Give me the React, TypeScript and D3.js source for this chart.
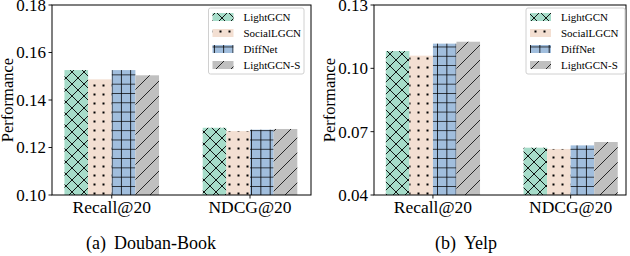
import React from "react";
import * as d3 from "d3";

const categories = ["Recall@20", "NDCG@20"];
const methods = ["LightGCN", "SocialLGCN", "DiffNet", "LightGCN-S"];

// values per method, [Recall@20, NDCG@20]
const doubanLightGCN = [0.1526, 0.1283];
const doubanSocialLGCN = [0.1487, 0.1269];
const doubanDiffNet = [0.1526, 0.1275];
const doubanLightGCNS = [0.1504, 0.1278];

const yelpLightGCN = [0.1082, 0.0624];
const yelpSocialLGCN = [0.106, 0.0618];
const yelpDiffNet = [0.1117, 0.0635];
const yelpLightGCNS = [0.1126, 0.0651];

const doubanTicks = [0.1, 0.12, 0.14, 0.16, 0.18];
const yelpTicks = [0.04, 0.07, 0.1, 0.13];

const colors = ["#a6dcc9", "#f3dfd2", "#a1bedd", "#c0c0c0"];
const patternIds = ["pCross", "pDots", "pPlus", "pSlash"];

const FONT = "Liberation Serif, Times New Roman, Times, serif";
const tStyle = (size: number) => ({ fontFamily: FONT, fontSize: `${size}px` });

type PanelProps = {
  left: number;
  right: number;
  top: number;
  bottom: number;
  xDomain: [number, number];
  yDomain: [number, number];
  ticks: number[];
  series: number[][];
  caption: [string, string];
  captionX: number;
  ylabelX: number;
  legendX: number;
  legendW: number;
};

function Panel(p: PanelProps) {
  const x = d3.scaleLinear().domain(p.xDomain).range([p.left, p.right]);
  const y = d3.scaleLinear().domain(p.yDomain).range([p.bottom, p.top]);
  const bw = 0.171;
  const fmt = d3.format(".2f");
  const bars: JSX.Element[] = [];
  p.series.forEach((vals, si) => {
    vals.forEach((v, ci) => {
      const c = ci + (si - 1.5) * bw;
      const x0 = x(c - bw / 2);
      const x1 = x(c + bw / 2);
      bars.push(
        <rect
          key={`b${si}-${ci}`}
          x={x0}
          y={y(v)}
          width={x1 - x0}
          height={y(p.yDomain[0]) - y(v)}
          fill={`url(#${patternIds[si]})`}
        />
      );
    });
  });
  const legendTop = 8;
  const rowH = 16;
  return (
    <g>
      {bars}
      <rect x={p.left} y={p.top} width={p.right - p.left} height={p.bottom - p.top} fill="none" stroke="#000" strokeWidth={1} />
      {p.ticks.map((t) => (
        <g key={`yt${t}`}>
          <line x1={p.left - 3.5} x2={p.left} y1={y(t)} y2={y(t)} stroke="#000" strokeWidth={0.9} />
          <text x={p.left - 6} y={y(t)} dy="0.35em" textAnchor="end" style={tStyle(17)}>
            {fmt(t)}
          </text>
        </g>
      ))}
      {categories.map((c, i) => (
        <g key={`xt${c}`}>
          <line x1={x(i)} x2={x(i)} y1={p.bottom} y2={p.bottom + 3.5} stroke="#000" strokeWidth={0.9} />
          <text x={x(i)} y={p.bottom + 18} textAnchor="middle" style={tStyle(17.5)}>
            {c}
          </text>
        </g>
      ))}
      <text
        transform={`translate(${p.ylabelX},${(p.top + p.bottom) / 2}) rotate(-90)`}
        textAnchor="middle"
        style={tStyle(16.5)}
      >
        Performance
      </text>
      <g>
        <rect x={p.legendX} y={legendTop} width={p.legendW} height={66} rx={2} fill="#fff" stroke="#d0d0d0" strokeWidth={1} />
        {methods.map((m, i) => (
          <g key={`lg${m}`}>
            <rect x={p.legendX + 4} y={legendTop + 5 + i * rowH} width={21} height={8} fill={`url(#${patternIds[i]})`} />
            <text x={p.legendX + 35} y={legendTop + 9 + i * rowH} dy="0.35em" style={tStyle(11)}>
              {m}
            </text>
          </g>
        ))}
      </g>
      <text x={p.captionX} y={249} textAnchor="middle" style={tStyle(18)}>
        {p.caption[0]}
        <tspan dx={8}>{p.caption[1]}</tspan>
      </text>
    </g>
  );
}

export default function App() {
  return (
    <svg width={630} height={256} style={{ position: "absolute", left: 0, top: 0, background: "#fff" }}>
      <defs>
        <pattern id="pCross" patternUnits="userSpaceOnUse" width={12} height={12}>
          <rect width={12} height={12} fill={colors[0]} />
          <path d="M0,0L12,12M12,0L0,12" stroke="#000" strokeWidth={0.9} />
        </pattern>
        <pattern id="pDots" patternUnits="userSpaceOnUse" width={9} height={9}>
          <rect width={9} height={9} fill={colors[1]} />
          <rect x={3.5} y={3.5} width={2} height={2} fill="#000" />
        </pattern>
        <pattern id="pPlus" patternUnits="userSpaceOnUse" width={9.3} height={9.3}>
          <rect width={9.3} height={9.3} fill={colors[2]} />
          <path d="M0,0V9.3M0,0H9.3" stroke="#000" strokeWidth={1.6} />
        </pattern>
        <pattern id="pSlash" patternUnits="userSpaceOnUse" width={15} height={15}>
          <rect width={15} height={15} fill={colors[3]} />
          <path d="M0,15L15,0M-2,2L2,-2M13,17L17,13" stroke="#000" strokeWidth={0.8} />
        </pattern>
      </defs>
      <Panel
        left={52}
        right={311}
        top={5}
        bottom={195}
        xDomain={[-0.432, 1.441]}
        yDomain={[0.1, 0.18]}
        ticks={doubanTicks}
        series={[doubanLightGCN, doubanSocialLGCN, doubanDiffNet, doubanLightGCNS]}
        caption={["(a)", "Douban-Book"]}
        captionX={151}
        ylabelX={13}
        legendX={208.5}
        legendW={95.5}
      />
      <Panel
        left={374}
        right={626}
        top={5}
        bottom={195}
        xDomain={[-0.428, 1.402]}
        yDomain={[0.04, 0.13]}
        ticks={yelpTicks}
        series={[yelpLightGCN, yelpSocialLGCN, yelpDiffNet, yelpLightGCNS]}
        caption={["(b)", "Yelp"]}
        captionX={466}
        ylabelX={335}
        legendX={526}
        legendW={99}
      />
    </svg>
  );
}
